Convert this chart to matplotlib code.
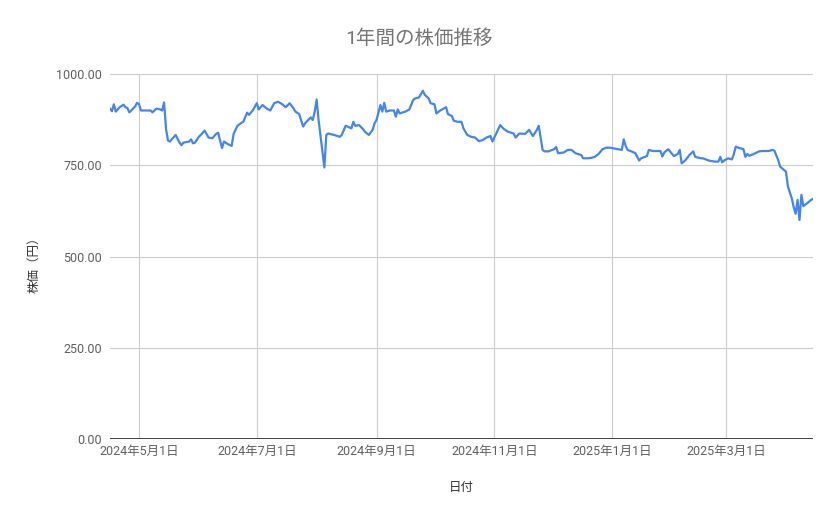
import matplotlib
matplotlib.use("Agg")
import matplotlib.pyplot as plt
import matplotlib.dates as mdates
import matplotlib.ticker as mticker
import pandas as pd

title = "1年間の株価推移"
x_label = "日付"
y_label = "株価（円）"

dates = [
    "2024-04-16", "2024-04-17", "2024-04-18", "2024-04-19", "2024-04-21", "2024-04-23",
    "2024-04-24", "2024-04-25", "2024-04-26", "2024-04-27", "2024-04-29", "2024-04-30",
    "2024-05-01", "2024-05-02", "2024-05-07", "2024-05-08", "2024-05-10", "2024-05-12",
    "2024-05-13", "2024-05-14", "2024-05-15", "2024-05-16", "2024-05-17", "2024-05-20",
    "2024-05-22", "2024-05-23", "2024-05-24", "2024-05-27", "2024-05-28", "2024-05-29",
    "2024-05-30", "2024-06-01", "2024-06-02", "2024-06-04", "2024-06-06", "2024-06-08",
    "2024-06-10", "2024-06-11", "2024-06-13", "2024-06-14", "2024-06-16", "2024-06-18",
    "2024-06-19", "2024-06-21", "2024-06-23", "2024-06-24", "2024-06-26", "2024-06-27",
    "2024-06-29", "2024-07-01", "2024-07-02", "2024-07-04", "2024-07-06", "2024-07-08",
    "2024-07-10", "2024-07-12", "2024-07-14", "2024-07-16", "2024-07-18", "2024-07-20",
    "2024-07-21", "2024-07-23", "2024-07-25", "2024-07-26", "2024-07-28", "2024-07-29",
    "2024-07-30", "2024-07-31", "2024-08-01", "2024-08-02", "2024-08-05", "2024-08-06",
    "2024-08-07", "2024-08-10", "2024-08-13", "2024-08-14", "2024-08-16", "2024-08-17",
    "2024-08-19", "2024-08-20", "2024-08-21", "2024-08-23", "2024-08-25", "2024-08-26",
    "2024-08-28", "2024-08-30", "2024-08-31", "2024-09-01", "2024-09-03", "2024-09-04",
    "2024-09-05", "2024-09-06", "2024-09-08", "2024-09-10", "2024-09-11", "2024-09-12",
    "2024-09-13", "2024-09-16", "2024-09-18", "2024-09-20", "2024-09-21", "2024-09-23",
    "2024-09-25", "2024-09-26", "2024-09-28", "2024-09-29", "2024-10-01", "2024-10-02",
    "2024-10-04", "2024-10-05", "2024-10-07", "2024-10-08", "2024-10-10", "2024-10-11",
    "2024-10-13", "2024-10-15", "2024-10-16", "2024-10-18", "2024-10-20", "2024-10-22",
    "2024-10-24", "2024-10-26", "2024-10-28", "2024-10-30", "2024-10-31", "2024-11-02",
    "2024-11-04", "2024-11-06", "2024-11-08", "2024-11-11", "2024-11-12", "2024-11-14",
    "2024-11-17", "2024-11-19", "2024-11-21", "2024-11-23", "2024-11-24", "2024-11-26",
    "2024-11-27", "2024-11-29", "2024-12-02", "2024-12-03", "2024-12-04", "2024-12-07",
    "2024-12-09", "2024-12-11", "2024-12-13", "2024-12-16", "2024-12-17", "2024-12-19",
    "2024-12-21", "2024-12-23", "2024-12-25", "2024-12-27", "2024-12-29", "2024-12-31",
    "2025-01-03", "2025-01-06", "2025-01-07", "2025-01-08", "2025-01-09", "2025-01-11",
    "2025-01-13", "2025-01-15", "2025-01-16", "2025-01-19", "2025-01-20", "2025-01-22",
    "2025-01-26", "2025-01-27", "2025-01-28", "2025-01-30", "2025-02-02", "2025-02-04",
    "2025-02-05", "2025-02-06", "2025-02-08", "2025-02-10", "2025-02-12", "2025-02-13",
    "2025-02-16", "2025-02-17", "2025-02-20", "2025-02-23", "2025-02-25", "2025-02-26",
    "2025-02-27", "2025-02-28", "2025-03-02", "2025-03-04", "2025-03-05", "2025-03-06",
    "2025-03-08", "2025-03-10", "2025-03-11", "2025-03-12", "2025-03-13", "2025-03-15",
    "2025-03-18", "2025-03-20", "2025-03-23", "2025-03-25", "2025-03-26", "2025-03-28",
    "2025-03-29", "2025-03-31", "2025-04-01", "2025-04-02", "2025-04-04", "2025-04-05",
    "2025-04-06", "2025-04-07", "2025-04-08", "2025-04-09", "2025-04-10", "2025-04-12",
    "2025-04-14", "2025-04-15",
]

prices = [
    905, 898, 917, 897, 909, 916,
    909, 907, 895, 900, 911, 921,
    918, 900, 900, 895, 905, 903,
    900, 922, 850, 818, 815, 833,
    812, 805, 812, 815, 821, 810,
    812, 828, 833, 845, 826, 824,
    836, 839, 797, 815, 808, 803,
    836, 858, 866, 869, 894, 888,
    901, 920, 903, 915, 906, 900,
    920, 924, 918, 909, 920, 906,
    897, 890, 856, 865, 876, 881,
    874, 897, 930, 874, 744, 833,
    837, 833, 828, 833, 858, 856,
    851, 869, 858, 860, 849, 842,
    833, 847, 865, 874, 915, 897,
    921, 897, 900, 900, 883, 903,
    892, 897, 903, 929, 933, 936,
    954, 943, 933, 920, 917, 892,
    900, 903, 909, 890, 885, 872,
    869, 869, 851, 833, 828, 826,
    816, 819, 826, 830, 815, 837,
    860, 849, 842, 837, 826, 837,
    836, 847, 830, 847, 858, 792,
    788, 788, 794, 800, 783, 785,
    792, 792, 783, 778, 769, 769,
    770, 773, 781, 794, 798, 798,
    795, 792, 821, 803, 792, 788,
    783, 763, 769, 775, 792, 789,
    789, 774, 785, 794, 775, 781,
    792, 755, 764, 778, 788, 773,
    769, 769, 763, 760, 760, 773,
    758, 763, 769, 766, 780, 801,
    797, 794, 773, 781, 776, 780,
    788, 789, 789, 792, 790, 764,
    746, 737, 733, 692, 660, 635,
    617, 655, 600, 669, 638, 646,
    655, 658,
]

y_ticks = [0, 250, 500, 750, 1000]
x_ticks = ["2024-05-01", "2024-07-01", "2024-09-01", "2024-11-01", "2025-01-01", "2025-03-01"]
x_tick_labels = ["2024年5月1日", "2024年7月1日", "2024年9月1日", "2024年11月1日", "2025年1月1日", "2025年3月1日"]

plt.rcParams["font.family"] = ["Roboto", "Noto Sans CJK JP", "DejaVu Sans"]

dt = pd.to_datetime(dates)
xt = pd.to_datetime(x_ticks)

fig = plt.figure(figsize=(8.39, 5.19), dpi=100)
ax = fig.add_axes([110 / 839, 1 - 439 / 519, 703 / 839, 365 / 519])

ax.plot(dt, prices, color="#4285F4", linewidth=1.6, solid_joinstyle="round", zorder=3)

ax.set_ylim(0, 1000)
ax.set_xlim(dt[0], dt[-1])
ax.set_yticks(y_ticks)
ax.yaxis.set_major_formatter(mticker.FuncFormatter(lambda v, p: f"{v:.2f}"))
ax.set_xticks(xt)
ax.set_xticklabels(x_tick_labels)

ax.grid(True, color="#cccccc", linewidth=0.8, zorder=0)
ax.axhline(0, color="#333333", linewidth=1.3, zorder=4)
for s in ax.spines.values():
    s.set_visible(False)
ax.tick_params(axis="both", length=0, labelsize=9, colors="#5f5f5f")
ax.tick_params(axis="y", pad=6)
ax.tick_params(axis="x", pad=4)

fig.text(419 / 839, 1 - 39 / 519, title, ha="center", va="center", fontsize=14, color="#757575")
fig.text(461 / 839, 1 - 487 / 519, x_label, ha="center", va="center", fontsize=9, color="#333333")
fig.text(34 / 839, 1 - 262 / 519, y_label, ha="center", va="center", rotation=90, fontsize=9, color="#333333")

fig.savefig("out.png", dpi=100, facecolor="white")
